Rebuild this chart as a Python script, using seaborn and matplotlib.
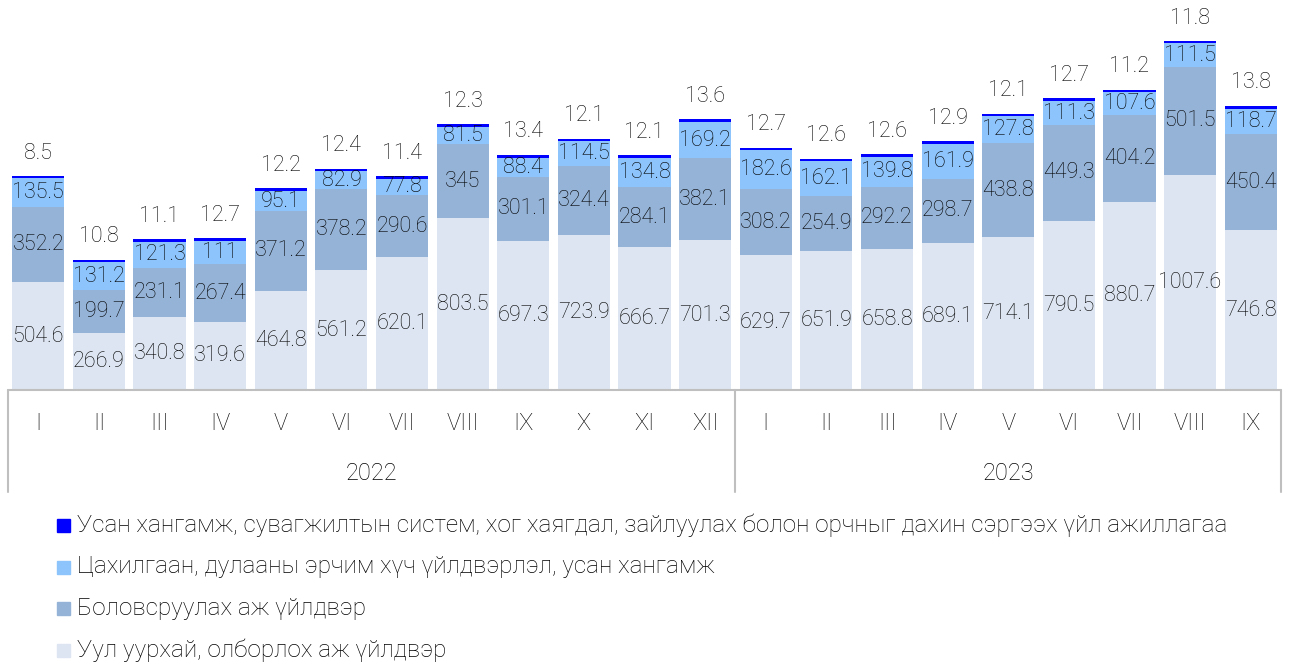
import matplotlib
matplotlib.use("Agg")
import matplotlib.pyplot as plt
import seaborn as sns
import numpy as np
import pandas as pd

# Monthly values by sector
months = ["I", "II", "III", "IV", "V", "VI", "VII", "VIII", "IX", "X", "XI", "XII",
          "I", "II", "III", "IV", "V", "VI", "VII", "VIII", "IX"]
years = ["2022", "2023"]
year_counts = [12, 9]

mining = [504.6, 266.9, 340.8, 319.6, 464.8, 561.2, 620.1, 803.5, 697.3, 723.9, 666.7, 701.3,
          629.7, 651.9, 658.8, 689.1, 714.1, 790.5, 880.7, 1007.6, 746.8]
manufacturing = [352.2, 199.7, 231.1, 267.4, 371.2, 378.2, 290.6, 345, 301.1, 324.4, 284.1, 382.1,
                 308.2, 254.9, 292.2, 298.7, 438.8, 449.3, 404.2, 501.5, 450.4]
electricity = [135.5, 131.2, 121.3, 111, 95.1, 82.9, 77.8, 81.5, 88.4, 114.5, 134.8, 169.2,
               182.6, 162.1, 139.8, 161.9, 127.8, 111.3, 107.6, 111.5, 118.7]
water = [8.5, 10.8, 11.1, 12.7, 12.2, 12.4, 11.4, 12.3, 13.4, 12.1, 12.1, 13.6,
         12.7, 12.6, 12.6, 12.9, 12.1, 12.7, 11.2, 11.8, 13.8]

series_names = [
    "Уул уурхай, олборлох аж үйлдвэр",
    "Боловсруулах аж үйлдвэр",
    "Цахилгаан, дулааны эрчим хүч үйлдвэрлэл, усан хангамж",
    "Усан хангамж, сувагжилтын систем, хог хаягдал, зайлуулах болон орчныг дахин сэргээх үйл ажиллагаа",
]
colors = ["#DCE5F1", "#95B3D7", "#8DC4FB", "#0000FF"]
text_color = "#000000"

sns.set_theme(style="white")
plt.rcParams["font.family"] = ["Roboto", "DejaVu Sans"]
plt.rcParams["font.weight"] = "light"

layers = [mining, manufacturing, electricity, water]
cum = np.cumsum(np.array(layers), axis=0)
n = len(months)

df = pd.DataFrame({"pos": np.arange(n)})
for i in range(4):
    df[f"c{i}"] = cum[i]

W, H = 1289, 666
fig = plt.figure(figsize=(W / 100, H / 100), dpi=100)
ax = fig.add_axes([8 / W, (H - 390) / H, (1281 - 8) / W, 390 / H])

# stacked bars drawn as overlapping cumulative heights, tallest first
for i in [3, 2, 1, 0]:
    sns.barplot(data=df, x="pos", y=f"c{i}", color=colors[i], saturation=1,
                width=0.86, ax=ax, edgecolor="none", linewidth=0)

ax.set_xlim(-0.5, n - 0.5)
ax.set_ylim(0, 1824)
ax.axis("off")

label_fs = 15.5
axis_fs = 17
# segment labels
for j in range(n):
    bottom = 0
    for i in range(3):
        v = layers[i][j]
        ax.text(j, bottom + v / 2, f"{v:g}", ha="center", va="center",
                fontsize=label_fs, color=text_color, fontweight="light")
        bottom += v
    ax.annotate(f"{water[j]:g}", (j, cum[3][j]), xytext=(0, 16.5), textcoords="offset points",
                ha="center", va="center", fontsize=label_fs, color=text_color,
                fontweight="light")

# category axis box with month and year rows
tr = ax.get_xaxis_transform()
line_kw = dict(color="#BFBFBF", lw=1.5, clip_on=False, transform=tr)
box_bottom = -(492 - 390) / 390
ax.plot([-0.5, n - 0.5], [0, 0], **line_kw)
edges = [-0.5]
for c in year_counts:
    edges.append(edges[-1] + c)
for e in edges:
    ax.plot([e, e], [0, box_bottom], **line_kw)

month_y = -(423 - 390) / 390
year_y = -(474 - 390) / 390
for j, m in enumerate(months):
    ax.text(j, month_y, m, transform=tr, ha="center", va="center", fontsize=axis_fs,
            color=text_color, fontweight="light")
for k, yr in enumerate(years):
    ax.text((edges[k] + edges[k + 1]) / 2, year_y, yr, transform=tr, ha="center",
            va="center", fontsize=axis_fs, color=text_color, fontweight="light")

# legend, listed top layer first
leg_y = [525, 567, 608, 650]
for k, i in enumerate([3, 2, 1, 0]):
    y = 1 - leg_y[k] / H
    fig.patches.append(plt.Rectangle((57 / W, y - 6.5 / H), 13 / W, 13 / H,
                                     transform=fig.transFigure, color=colors[i]))
    fig.text(77 / W, y, series_names[i], ha="left", va="center", fontsize=17.5,
             color=text_color, fontweight="light")

fig.savefig("out.png", dpi=100)
